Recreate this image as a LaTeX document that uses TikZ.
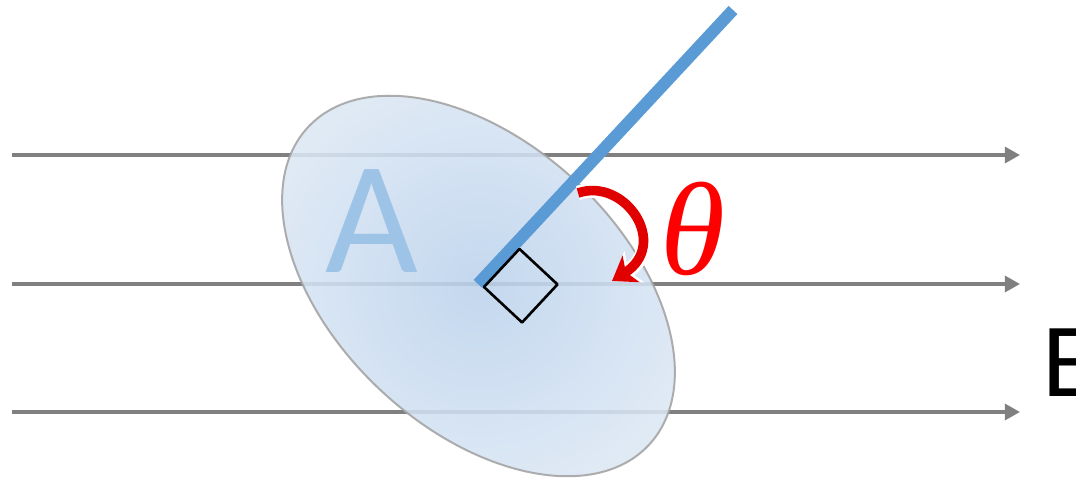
\documentclass[tikz,border=0pt]{standalone}
\usepackage{fontspec}
\setmainfont{Carlito}
\newfontfamily\anglefont{Liberation Serif}
\usetikzlibrary{arrows.meta}
\definecolor{fieldgray}{HTML}{808080}
\definecolor{ringgray}{HTML}{A3A3A3}
\definecolor{normalblue}{HTML}{5B9BD5}
\definecolor{letterblue}{HTML}{9DC3E6}
\definecolor{surfin}{HTML}{BBD2EC}
\definecolor{surfout}{HTML}{DCE7F4}
\definecolor{anglered}{HTML}{E00000}

\begin{document}
\begin{tikzpicture}[x=0.025cm,y=0.025cm,>=Stealth,line join=round,
    fieldline/.style={fieldgray,line width=0.085cm,-{Triangle[length=0.38cm,width=0.4cm]}},
    surface/.style={draw=ringgray,line width=0.05cm,inner color=surfin,outer color=surfout,opacity=0.88},
    normalline/.style={normalblue,line width=0.3cm},
    rightmark/.style={black,line width=0.065cm}]
    \useasboundingbox (0,0) rectangle (1076,479);
    % field lines
    \foreach \h in {324,195,67}
      \draw[fieldline] (12,\h)--(1020,\h);
    % surface A
    \shade[surface,rotate around={-43:(478.5,193)}] (478.5,193) ellipse [x radius=233,y radius=143];
    \node[letterblue,font=\fontsize{114}{114}\selectfont] (lblA) at (372,258) {A};
    % normal and right angle
    \coordinate (base) at (478,195);
    \coordinate (top) at (733,469);
    \coordinate (foot) at (484,192);
    \draw[normalline] (base)--(top);
    \draw[rightmark,rotate around={47:(foot)}] (foot) rectangle ++(52,-52);
    % angle arrow
    \coordinate (arcstart) at (578,286);
    \coordinate (arcend) at (612,198);
    \draw[white,line width=0.36cm,-{Stealth[length=0.66cm,width=0.92cm,inset=0.18cm]}] (arcstart) .. controls (625,302) and (670,235) .. (arcend);
    \draw[anglered,line width=0.24cm,-{Stealth[length=0.56cm,width=0.78cm,inset=0.15cm]}] (arcstart) .. controls (625,302) and (670,235) .. (arcend);
    \node[red,font=\anglefont\itshape\fontsize{94}{94}\selectfont] (theta) at (693,250) {θ};
    \node[black,font=\fontsize{75}{75}\selectfont,anchor=base west] (lblE) at (1038,82) {E};
  \end{tikzpicture}
\end{document}
